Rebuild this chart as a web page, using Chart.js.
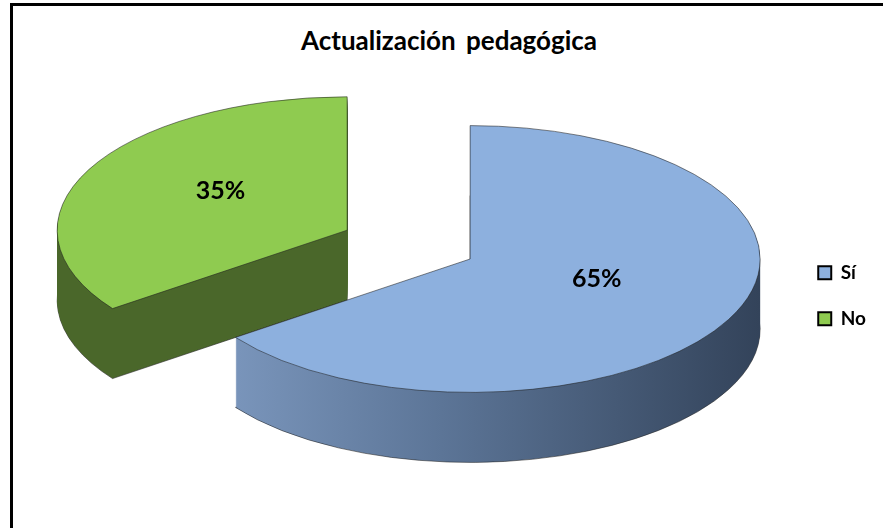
<!DOCTYPE html>
<html>
<head>
<meta charset="utf-8">
<script src="https://cdn.jsdelivr.net/npm/chart.js@4"></script>
<style>
html, body { margin: 0; padding: 0; background: #fff; overflow: hidden; }
#frame { position: absolute; left: 10px; top: 3px; width: 900px; height: 560px; border: 3px solid #000; box-sizing: border-box; }
#title { position: absolute; left: 0; top: 24px; width: 898px; text-align: center; font: bold 26px Lato, sans-serif; color: #000; word-spacing: 4px; }
#wrap { position: absolute; left: 0; top: 0; width: 883px; height: 528px; }
</style>
</head>
<body>
<div id="frame"></div>
<div id="title">Actualización pedagógica</div>
<div id="wrap"><canvas id="graph"></canvas></div>
<script>
const categories = ['Sí', 'No'];
const percentages = [65, 35];
const sliceLabels = ['65%', '35%'];

const topColors = ['#8DB0DE', '#8FCB50'];
const TILT = 0.46;      // vertical squash of the pie
const DEPTH = 70;       // thickness of the pie in px
const RADIUS = 290;
const EXPLODE = 138;

const sideFill = (ctx, arc, k) => {
    const r = arc.outerRadius;
    if (k === 0) {
        const g = ctx.createLinearGradient(arc.x - r, 0, arc.x + r, 0);
        g.addColorStop(0, '#819dc4');
        g.addColorStop(0.45, '#5c7597');
        g.addColorStop(1, '#33435a');
        return g;
    }
    const left = arc.x - r - EXPLODE * 0.9;
    const g = ctx.createLinearGradient(left, 0, left + 50, 0);
    g.addColorStop(0, '#78a846');
    g.addColorStop(1, '#4a672a');
    return g;
};

// draws one layer of a slice: squashed, exploded by its own offset, dropped by dy
const drawLayer = (ctx, arc, dy, fill, border) => {
    const orig = arc.options;
    const off = orig.offset || 0;
    const mid = (arc.startAngle + arc.endAngle) / 2;
    arc.options = Object.assign({}, orig, {
        backgroundColor: fill,
        borderWidth: border,
        offset: 0,
    });
    ctx.save();
    ctx.translate(0, dy);
    ctx.translate(arc.x, arc.y);
    ctx.scale(1, TILT);
    ctx.translate(-arc.x, -arc.y);
    ctx.translate(Math.cos(mid) * off, Math.sin(mid) * off);
    arc.draw(ctx);
    ctx.restore();
    arc.options = orig;
};

const pie3d = {
    id: 'pie3d',

    beforeDatasetsDraw(chart) {
        const ctx = chart.ctx;
        const arcs = chart.getDatasetMeta(0).data;

        for (let i = DEPTH; i > 0; i--) {
            arcs.forEach((arc, k) => {
                drawLayer(ctx, arc, i, sideFill(ctx, arc, k), i === DEPTH ? 1 : 0);
            });
        }
        arcs.forEach(arc => drawLayer(ctx, arc, 0, arc.options.backgroundColor, 1));

        ctx.save();
        ctx.font = 'bold 25px Lato';
        ctx.fillStyle = '#000';
        ctx.textAlign = 'center';
        ctx.textBaseline = 'middle';
        arcs.forEach((arc, k) => {
            const mid = (arc.startAngle + arc.endAngle) / 2;
            const dist = arc.options.offset + arc.outerRadius * 0.49;
            const x = arc.x + Math.cos(mid) * dist;
            const y = arc.y + Math.sin(mid) * dist * TILT - 10;
            ctx.fillText(sliceLabels[k], x, y);
        });
        ctx.restore();

        return false;
    },
};

new Chart('graph', {
    type: 'pie',

    data: {
        labels: categories,
        datasets: [{
            data: percentages,
            backgroundColor: topColors,
            borderColor: 'rgba(30,30,30,0.75)',
            borderWidth: 1,
            offset: [0, EXPLODE],
            radius: RADIUS,
        }],
    },

    options: {
        responsive: true,
        maintainAspectRatio: false,
        animation: false,

        layout: {
            padding: { left: 149, right: 7, top: 0, bottom: 10 },
        },

        plugins: {
            legend: {
                position: 'right',
                title: {
                    display: true,
                    text: '',
                    padding: { top: 0, bottom: 59 },
                },
                labels: {
                    boxWidth: 13,
                    boxHeight: 13,
                    padding: 27,
                    color: '#000',
                    font: { family: 'Lato', size: 19, weight: 'bold' },
                    generateLabels: chart =>
                        Chart.overrides.pie.plugins.legend.labels.generateLabels(chart)
                            .map(item => Object.assign(item, { strokeStyle: '#000', lineWidth: 2 })),
                },
            },

            tooltip: { enabled: false },
        },
    },

    plugins: [pie3d],
});
</script>
</body>
</html>
